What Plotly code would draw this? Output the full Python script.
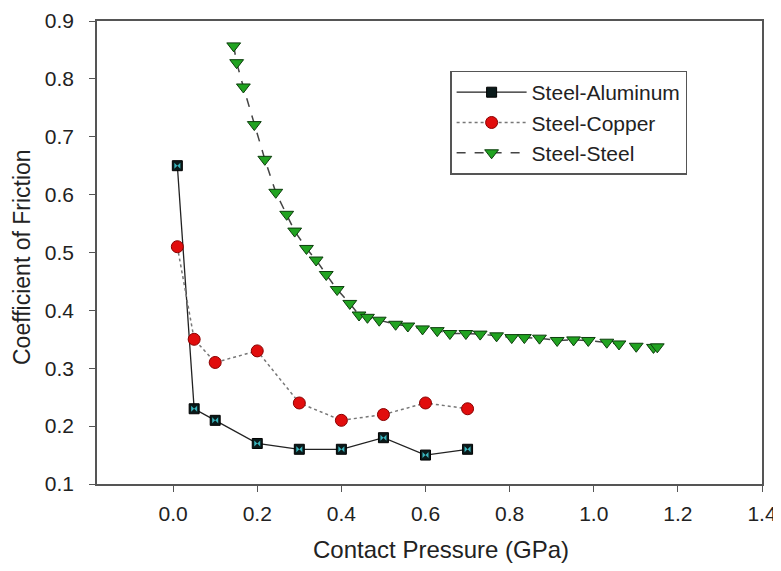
import plotly.graph_objects as go

# Steel-Aluminum
al_x = [0.01, 0.05, 0.1, 0.2, 0.3, 0.4, 0.5, 0.6, 0.7]
al_y = [0.65, 0.23, 0.21, 0.17, 0.16, 0.16, 0.18, 0.15, 0.16]

# Steel-Copper
cu_x = [0.01, 0.05, 0.1, 0.2, 0.3, 0.4, 0.5, 0.6, 0.7]
cu_y = [0.51, 0.35, 0.31, 0.33, 0.24, 0.21, 0.22, 0.24, 0.23]

# Steel-Steel
st_x = [0.144, 0.151, 0.167, 0.193, 0.218, 0.244, 0.270, 0.289, 0.317, 0.340,
        0.364, 0.390, 0.420, 0.442, 0.462, 0.490, 0.529, 0.558, 0.593, 0.628,
        0.658, 0.696, 0.730, 0.769, 0.805, 0.835, 0.871, 0.913, 0.952, 0.987,
        1.031, 1.060, 1.101, 1.142, 1.151]
st_y = [0.857, 0.828, 0.786, 0.721, 0.661, 0.604, 0.566, 0.537, 0.507, 0.487,
        0.462, 0.436, 0.412, 0.392, 0.388, 0.383, 0.376, 0.373, 0.368, 0.365,
        0.360, 0.360, 0.359, 0.356, 0.353, 0.353, 0.352, 0.348, 0.349, 0.348,
        0.345, 0.342, 0.338, 0.336, 0.337]

x_ticks = [0.0, 0.2, 0.4, 0.6, 0.8, 1.0, 1.2, 1.4]
y_ticks = [0.1, 0.2, 0.3, 0.4, 0.5, 0.6, 0.7, 0.8, 0.9]

x_title = "Contact Pressure (GPa)"
y_title = "Coefficient of Friction"

FONT = "Liberation Sans, Arial"

fig = go.Figure()

fig.add_trace(go.Scatter(
    x=al_x, y=al_y, name="Steel-Aluminum", mode="lines+markers",
    line=dict(color="#222222", width=1.3),
    marker=dict(symbol="square", size=10, color="#0a1a1a",
                line=dict(color="#000000", width=1)),
    legendgroup="al"))
fig.add_trace(go.Scatter(
    x=al_x, y=al_y, mode="markers", showlegend=False, hoverinfo="skip",
    marker=dict(symbol="bowtie", size=6, color="#3ab5bd", line=dict(width=0)),
    legendgroup="al"))

fig.add_trace(go.Scatter(
    x=cu_x, y=cu_y, name="Steel-Copper", mode="lines+markers",
    line=dict(color="#777777", width=1.5, dash="dot"),
    marker=dict(symbol="circle", size=12, color="#e10d0d",
                line=dict(color="#8a0000", width=1))))

fig.add_trace(go.Scatter(
    x=st_x, y=st_y, name="Steel-Steel", mode="lines+markers",
    line=dict(color="#444444", width=1.5, dash="dash"),
    marker=dict(symbol="triangle-down", size=12, color="#21a321",
                line=dict(color="#0c3d0c", width=1))))

axis_common = dict(
    showgrid=False, zeroline=False, showline=True, linecolor="#555555",
    linewidth=1.5, mirror=True, ticks="outside", ticklen=6,
    tickcolor="#555555", tickwidth=1.2, automargin=False,
    tickfont=dict(family=FONT, size=21, color="#222222"),
)

fig.update_layout(
    width=781, height=571,
    margin=dict(l=89, r=27, t=13, b=95),
    paper_bgcolor="white", plot_bgcolor="white",
    font=dict(family=FONT, size=21, color="#222222"),
    xaxis=dict(range=[-0.181, 1.4], tickvals=x_ticks,
               ticktext=[f"{v:.1f}" for v in x_ticks],
               ticklabelstandoff=4,
               **axis_common),
    yaxis=dict(range=[0.1, 0.9], tickvals=y_ticks,
               ticktext=[f"{v:.1f}" for v in y_ticks],
               ticklabelstandoff=11,
               **axis_common),
    legend=dict(x=0.531, y=0.893, xanchor="left", yanchor="top",
                bgcolor="white", bordercolor="#555555", borderwidth=1.5,
                font=dict(size=21, color="#222222"),
                itemwidth=70, tracegroupgap=0),
    showlegend=True,
    annotations=[
        dict(text=x_title, xref="paper", yref="paper", x=0.517, y=-0.1425,
             xanchor="center", yanchor="middle", showarrow=False,
             font=dict(family=FONT, size=24, color="#222222")),
        dict(text=y_title, xref="paper", yref="paper", x=-0.113, y=0.49,
             xanchor="center", yanchor="middle", showarrow=False, textangle=-90,
             font=dict(family=FONT, size=23, color="#222222")),
    ],
)

fig.write_html("out.html")
